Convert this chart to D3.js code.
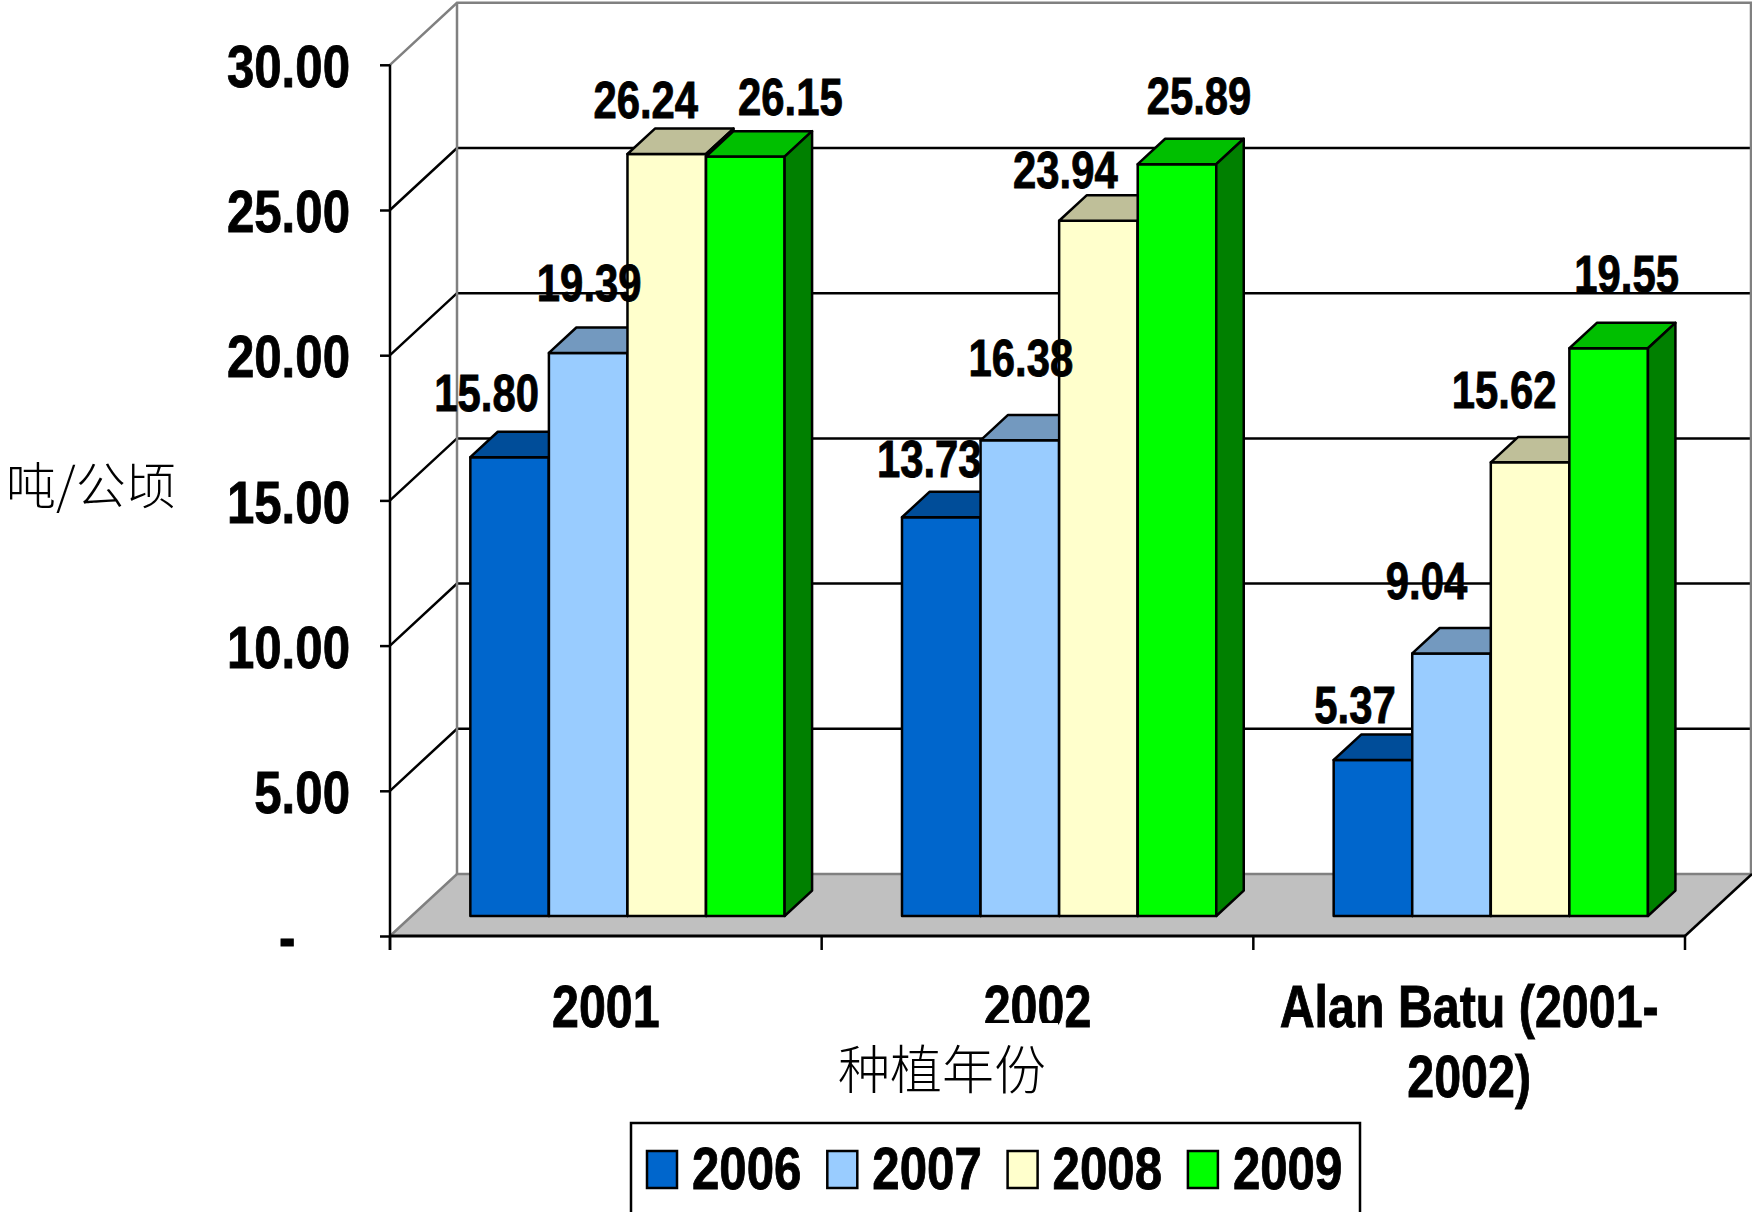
<!DOCTYPE html>
<html>
<head>
<meta charset="utf-8">
<script src="https://cdn.jsdelivr.net/npm/d3@7"></script>
<style>
  html, body { margin: 0; padding: 0; background: #fff; }
  svg { display: block; }
  .bold { stroke: #000; stroke-width: 0.9px; paint-order: stroke; }
</style>
</head>
<body>
<svg id="chart" width="1752" height="1212"></svg>
<script>
// ---- data ----
const categories = ["2001", "2002", "Alan Batu (2001-2002)"];
const categoryLines = [["2001"], ["2002"], ["Alan Batu (2001-", "2002)"]];
const seriesNames = ["2006", "2007", "2008", "2009"];
const values2006 = [15.80, 13.73, 5.37];
const values2007 = [19.39, 16.38, 9.04];
const values2008 = [26.24, 23.94, 15.62];
const values2009 = [26.15, 25.89, 19.55];
const yTickValues = [0, 5, 10, 15, 20, 25, 30];
const yTitle = "吨/公顷";
const xTitle = "种植年份";

// ---- layout & style ----
const SANS = "'Liberation Sans', Arial, sans-serif";
const CONDENSE = 0.82;                   // narrow-face width relative to the regular face
const CJK = "'Noto Sans CJK SC', 'Noto Sans CJK JP', sans-serif";
const seriesColors = ["#0066CC", "#99CCFF", "#FFFFCC", "#00FF00"];
const plotLeft = 390, plotRight = 1685, floorFront = 936, valueTop = 64.8;
const depthX = 67, depthY = 62;          // receding offset of back wall
const barFront = 0.323, barDepth = 0.41; // bar slab position within the depth
const lineW = 2.5;
// per-label nudges [dx, dy] relative to the default spot above each bar
const labelNudge = [
  [[-23, -1], [1, -7], [-21, 9], [45, 3]],
  [[-12, 5], [1, -19], [-33, 12], [22, -5]],
  [[-18, 8], [-25, -9], [-26, -9], [18, -11]]
];

const seriesValues = [values2006, values2007, values2008, values2009];
const rows = categories.map((c, ci) => ({
  category: c,
  bars: seriesNames.map((s, si) => ({ series: s, si, ci, value: seriesValues[si][ci] }))
}));

const svg = d3.select("#chart");

// squeeze a bold sans text horizontally around its anchor point
function condense(sel) {
  sel.each(function () {
    const t = d3.select(this);
    const x = +(t.attr("x") || 0), yy = +(t.attr("y") || 0);
    const prev = t.attr("transform") || "";
    t.attr("x", 0).attr("y", 0)
     .attr("transform", `${prev} translate(${x},${yy}) scale(${CONDENSE},1)`);
    t.selectAll("tspan").filter(function () { return this.hasAttribute("x"); }).attr("x", 0);
  });
}

const y = d3.scaleLinear().domain([0, 30]).range([floorFront, valueTop]);
const x0 = d3.scaleBand().domain(categories).range([plotLeft, plotRight]).paddingInner(0).paddingOuter(0);
const x1 = d3.scaleBand().domain(seriesNames).range([0, x0.bandwidth()]).paddingInner(0).paddingOuter(0.747);

const backLeft = plotLeft + depthX, backRight = plotRight + depthX;
const shade = (c, k) => { const r = d3.rgb(c); return d3.rgb(r.r * k, r.g * k, r.b * k).formatHex(); };

// ---- back wall ----
svg.append("rect")
  .attr("x", backLeft).attr("y", y(30) - depthY)
  .attr("width", backRight - backLeft).attr("height", y(0) - y(30))
  .attr("fill", "#fff");

// gridlines: diagonal on the side wall then across the back wall
const grid = svg.append("g");
grid.selectAll("path")
  .data(yTickValues.filter(v => v > 0))
  .join("path")
  .attr("d", v => `M${plotLeft},${y(v)}L${backLeft},${y(v) - depthY}L${backRight},${y(v) - depthY}`)
  .attr("fill", "none")
  .attr("stroke", v => v === 30 ? "#808080" : "#000")
  .attr("stroke-width", lineW);

// wall edges
svg.append("path")
  .attr("d", `M${backLeft},${y(30) - depthY}L${backLeft},${y(0) - depthY}`)
  .attr("stroke", "#808080").attr("stroke-width", lineW).attr("fill", "none");
svg.append("path")
  .attr("d", `M${backRight - 1},${y(30) - depthY}L${backRight - 1},${y(0) - depthY}`)
  .attr("stroke", "#808080").attr("stroke-width", lineW).attr("fill", "none");

// ---- floor ----
svg.append("path")
  .attr("d", `M${plotLeft},${y(0)}L${plotRight},${y(0)}L${backRight},${y(0) - depthY}L${backLeft},${y(0) - depthY}Z`)
  .attr("fill", "#C0C0C0").attr("stroke", "none");
svg.append("path")
  .attr("d", `M${plotLeft},${y(0)}L${backLeft},${y(0) - depthY}L${backRight},${y(0) - depthY}`)
  .attr("fill", "none").attr("stroke", "#808080").attr("stroke-width", lineW);
svg.append("path")
  .attr("d", `M${plotRight},${y(0)}L${backRight},${y(0) - depthY}`)
  .attr("fill", "none").attr("stroke", "#000").attr("stroke-width", lineW);

// ---- bars ----
const fdx = barFront * depthX, fdy = barFront * depthY;
const bdx = barDepth * depthX, bdy = barDepth * depthY;
const geom = d => {
  const xL = x0(categories[d.ci]) + x1(d.series) + fdx;
  const xR = xL + x1.bandwidth();
  const yB = y(0) - fdy;
  const yT = y(d.value) - fdy;
  return { xL, xR, yB, yT };
};

const barGroups = svg.append("g").selectAll("g.cat")
  .data(rows).join("g").attr("class", "cat");

const bar = barGroups.selectAll("g.bar")
  .data(r => r.bars).join("g").attr("class", "bar");

bar.append("rect")
  .attr("x", d => geom(d).xL).attr("y", d => geom(d).yT)
  .attr("width", x1.bandwidth())
  .attr("height", d => geom(d).yB - geom(d).yT)
  .attr("fill", d => seriesColors[d.si])
  .attr("stroke", "#000").attr("stroke-width", lineW).attr("stroke-linejoin", "round");

bar.append("path")
  .attr("d", d => { const g = geom(d);
    return `M${g.xL},${g.yT}L${g.xL + bdx},${g.yT - bdy}L${g.xR + bdx},${g.yT - bdy}L${g.xR},${g.yT}Z`; })
  .attr("fill", d => shade(seriesColors[d.si], 0.75))
  .attr("stroke", "#000").attr("stroke-width", lineW).attr("stroke-linejoin", "round");

bar.append("path")
  .attr("d", d => { const g = geom(d);
    return `M${g.xR},${g.yT}L${g.xR + bdx},${g.yT - bdy}L${g.xR + bdx},${g.yB - bdy}L${g.xR},${g.yB}Z`; })
  .attr("fill", d => shade(seriesColors[d.si], 0.5))
  .attr("stroke", "#000").attr("stroke-width", lineW).attr("stroke-linejoin", "round");

// ---- value axis (front) ----
const yAxis = d3.axisLeft(y)
  .tickValues(yTickValues)
  .tickSize(10)
  .tickPadding(30)
  .tickFormat(v => v === 0 ? "-\u00a0\u00a0\u00a0\u00a0" : d3.format(".2f")(v));

const yAxisG = svg.append("g")
  .attr("transform", `translate(${plotLeft},0)`)
  .call(yAxis);
yAxisG.select(".domain").remove();
yAxisG.selectAll(".tick line").attr("stroke", "#000").attr("stroke-width", lineW);
yAxisG.selectAll(".tick text")
  .attr("dy", "0.36em")
  .attr("fill", "#000")
  .attr("class", "bold")
  .style("font-family", SANS)
  .style("font-weight", "bold")
  .style("font-size", "60px")
  .call(condense);

svg.append("line")
  .attr("x1", plotLeft).attr("x2", plotLeft)
  .attr("y1", y(30)).attr("y2", y(0) + 14)
  .attr("stroke", "#000").attr("stroke-width", lineW);

// ---- category axis ----
svg.append("line")
  .attr("x1", plotLeft).attr("x2", plotRight)
  .attr("y1", y(0)).attr("y2", y(0))
  .attr("stroke", "#000").attr("stroke-width", 3);

const edges = categories.map(c => x0(c)).concat([x0.range()[1]]);
svg.append("g").selectAll("line")
  .data(edges).join("line")
  .attr("x1", d => d).attr("x2", d => d)
  .attr("y1", y(0)).attr("y2", y(0) + 14)
  .attr("stroke", "#000").attr("stroke-width", lineW);

const catLabels = svg.append("g").selectAll("text")
  .data(categories).join("text")
  .attr("class", "bold")
  .attr("x", c => x0(c) + x0.bandwidth() / 2)
  .attr("y", 1027)
  .attr("text-anchor", "middle")
  .style("font-family", SANS).style("font-weight", "bold").style("font-size", "59px")
  .attr("fill", "#000");
catLabels.selectAll("tspan")
  .data((c, i) => categoryLines[i])
  .join("tspan")
  .attr("x", function () { return d3.select(this.parentNode).attr("x"); })
  .attr("dy", (d, i) => i === 0 ? 0 : 70)
  .text(d => d);
catLabels.call(condense);

// ---- data labels ----
bar.append("text")
  .attr("class", "bold")
  .attr("x", d => (geom(d).xL + geom(d).xR) / 2 + labelNudge[d.ci][d.si][0])
  .attr("y", d => geom(d).yT - 45 + labelNudge[d.ci][d.si][1])
  .attr("text-anchor", "middle")
  .style("font-family", SANS).style("font-weight", "bold").style("font-size", "51px")
  .attr("fill", "#000")
  .text(d => d3.format(".2f")(d.value))
  .call(condense);

// raise labels above every bar so neighbouring columns never cover them
svg.selectAll("g.bar text").each(function () { svg.node().appendChild(this); });

// ---- axis titles ----
const xTitleG = svg.append("g");
xTitleG.append("rect")
  .attr("x", 828).attr("y", 1023).attr("width", 230).attr("height", 80)
  .attr("fill", "#fff");
xTitleG.append("text")
  .attr("x", 942).attr("y", 1089)
  .attr("text-anchor", "middle")
  .style("font-family", CJK).style("font-weight", 300).style("font-size", "52px")
  .attr("fill", "#000")
  .text(xTitle);

svg.append("text")
  .attr("x", 6).attr("y", 504)
  .style("font-family", CJK).style("font-weight", 300).style("font-size", "50px")
  .attr("fill", "#000")
  .text(yTitle);

// ---- legend ----
const legend = svg.append("g");
legend.append("rect")
  .attr("x", 631).attr("y", 1123).attr("width", 729).attr("height", 92)
  .attr("fill", "#fff").attr("stroke", "#000").attr("stroke-width", lineW);
const item = legend.selectAll("g.item")
  .data(seriesNames).join("g").attr("class", "item")
  .attr("transform", (d, i) => `translate(${647 + i * 180.3},0)`);
item.append("rect")
  .attr("x", 0).attr("y", 1151).attr("width", 30).attr("height", 37)
  .attr("fill", (d, i) => seriesColors[i])
  .attr("stroke", "#000").attr("stroke-width", lineW);
item.append("text")
  .attr("class", "bold")
  .attr("x", 45).attr("y", 1189)
  .style("font-family", SANS).style("font-weight", "bold").style("font-size", "60px")
  .attr("fill", "#000")
  .text(d => d)
  .call(condense);
</script>
</body>
</html>
